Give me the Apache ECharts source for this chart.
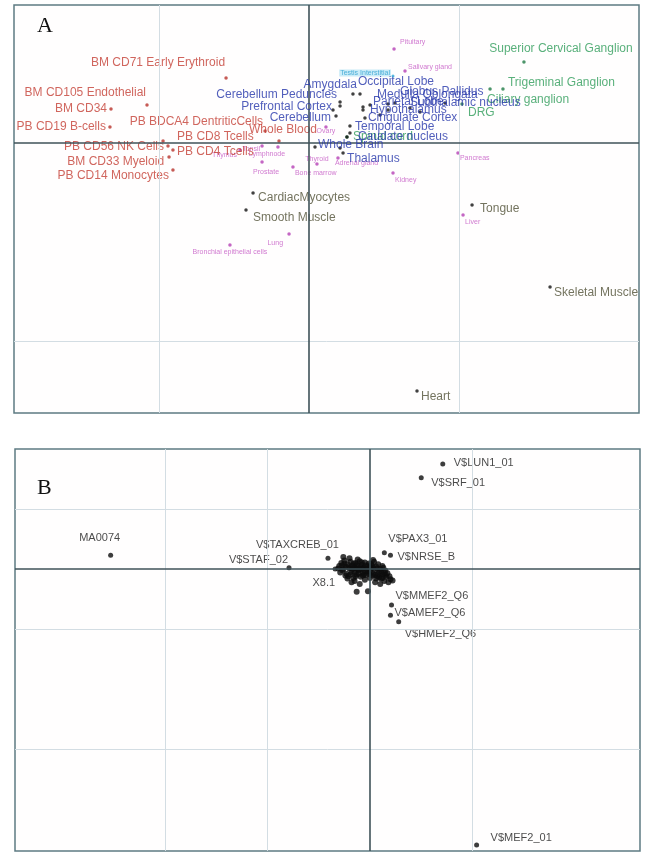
<!DOCTYPE html>
<html>
<head>
<meta charset="utf-8">
<script src="https://cdn.jsdelivr.net/npm/echarts@6/dist/echarts.min.js"></script>
<style>
  html, body { margin: 0; padding: 0; background: #ffffff; }
  #chart { width: 646px; height: 852px; }
</style>
</head>
<body>
<div id="chart"></div>
<script>
// ---------- Panel A: tissue coordinates ----------
const immuneNames = ['BM CD71 Early Erythroid', 'BM CD105 Endothelial', 'BM CD34', 'PB CD19 B-cells',
  'PB BDCA4 DentriticCells', 'PB CD8 Tcells', 'PB CD56 NK Cells', 'PB CD4 Tcells',
  'BM CD33 Myeloid', 'PB CD14 Monocytes', 'Whole Blood'];
const immuneX = [-0.553, -1.08, -1.32, -1.327, -0.293, -0.973, -0.94, -0.907, -0.933, -0.907, -0.20];
const immuneY = [0.328, 0.192, 0.172, 0.081, 0.061, 0.010, -0.015, -0.035, -0.071, -0.136, 0.010];

const brainNames = ['Amygdala', 'Occipital Lobe', 'Cerebellum Peduncles', 'Prefrontal Cortex', 'Cerebellum',
  'Medulla Oblongata', 'Parietal Lobe', 'Globus Pallidus', 'Subthalamic nucleus', 'Hypothalamus',
  'Cingulate Cortex', 'Temporal Lobe', 'Caudate nucleus', 'Whole Brain', 'Thalamus'];
const brainX = [0.293, 0.34, 0.207, 0.16, 0.18, 0.407, 0.36, 0.527, 0.573, 0.36, 0.373, 0.273, 0.273, 0.04, 0.227];
const brainY = [0.247, 0.247, 0.207, 0.167, 0.136, 0.192, 0.182, 0.197, 0.202, 0.167, 0.126, 0.086, 0.051, -0.02, -0.051];

// unlabelled neural samples inside the dense cluster
const brainExtraX = [0.207, 0.527, 0.253, 0.207, 0.473, 0.673, 0.907, 0.74];
const brainExtraY = [0.187, 0.167, 0.03, -0.025, 0.141, 0.177, 0.202, 0.157];

const gangliaNames = ['Superior Cervical Ganglion', 'Trigeminal Ganglion', 'Ciliary ganglion', 'DRG', 'Spinal cord'];
const gangliaX = [1.433, 1.293, 1.207, 1.02, 0.253];
const gangliaY = [0.409, 0.273, 0.273, 0.197, 0.03];

const organNames = ['Pituitary', 'Salivary gland', 'Pancreas', 'Kidney', 'Liver', 'Lung',
  'Bronchial epithelial cells', 'Thyroid', 'Adrenal gland', 'Bone marrow', 'Prostate',
  'Lymphnode', 'Tonsil', 'Thymus', 'Ovary'];
const organX = [0.567, 0.64, 0.993, 0.56, 1.027, -0.133, -0.527, 0.053, 0.193, -0.107, -0.313, -0.207, -0.313, -0.46, 0.113];
const organY = [0.475, 0.364, -0.051, -0.152, -0.364, -0.46, -0.515, -0.106, -0.076, -0.121, -0.096, -0.02, -0.015, -0.035, 0.081];

const testisNames = ['Testis Interstitial'];
const testisX = [0.56];
const testisY = [0.338];

const muscleNames = ['CardiacMyocytes', 'Smooth Muscle', 'Tongue', 'Skeletal Muscle', 'Heart'];
const muscleX = [-0.373, -0.42, 1.087, 1.607, 0.72];
const muscleY = [-0.253, -0.338, -0.313, -0.727, -1.253];

// reference lines of panel A
const gridAX = [-1, 1];
const gridAY = [-1];

// ---------- Panel B: motif coordinates ----------
const motifNames = ['V$LUN1_01', 'V$SRF_01', 'MA0074', 'V$TAXCREB_01', 'V$STAF_02', 'X8.1',
  'V$PAX3_01', 'V$NRSE_B', 'V$MMEF2_Q6', 'V$AMEF2_Q6', 'V$HMEF2_Q6', 'V$MEF2_01'];
const motifX = [0.71, 0.50, -2.53, -0.41, -0.79, -0.34, 0.14, 0.20, 0.21, 0.20, 0.28, 1.04];
const motifY = [1.75, 1.52, 0.23, 0.18, 0.02, 0.00, 0.27, 0.23, -0.60, -0.77, -0.88, -4.60];

// the unlabelled bulk of motifs near the origin
const bulkX = [-0.30, -0.28, -0.27, -0.25, -0.24, -0.23, -0.22, -0.21, -0.20, -0.19, -0.18, -0.17, -0.16, -0.15,
  -0.14, -0.13, -0.12, -0.11, -0.10, -0.09, -0.08, -0.07, -0.06, -0.05, -0.04, -0.03, -0.02, -0.01, 0.00, 0.01,
  0.02, 0.03, 0.04, 0.05, 0.06, 0.07, 0.08, 0.09, 0.10, 0.11, 0.12, 0.13, 0.14, 0.15, 0.16, 0.18, 0.20, -0.26,
  -0.20, -0.12, -0.05, -0.15, -0.10, -0.18, -0.02, 0.05, -0.08, -0.06, 0.00, -0.13, 0.03, -0.22, -0.13, 0.10,
  -0.29, -0.26, -0.24, -0.21, -0.19, -0.17, -0.15, -0.13, -0.11, -0.09, -0.07, -0.05, -0.03, -0.01, 0.01, 0.03,
  0.05, 0.07, 0.09, 0.11, 0.13, 0.15, 0.17, 0.19, -0.25, -0.16, -0.08, 0.02, 0.08, -0.18, -0.04, 0.12,
  -0.27, -0.11, 0.06, 0.22, -0.31, -0.14, 0.00, 0.14];
const bulkY = [0.05, 0.10, -0.02, 0.14, 0.04, -0.08, 0.08, -0.12, 0.01, 0.12, -0.05, 0.06, -0.15, 0.02,
  0.10, -0.09, 0.05, -0.02, 0.13, -0.13, 0.07, -0.06, 0.02, 0.11, -0.10, 0.04, -0.04, 0.09, -0.15, 0.01,
  0.06, -0.08, 0.12, -0.02, 0.04, -0.12, 0.08, -0.05, 0.00, -0.16, 0.05, -0.09, -0.20, -0.03, -0.13, -0.22, -0.17, 0.20,
  0.18, 0.16, -0.18, -0.20, -0.25, -0.22, -0.37, -0.22, 0.00, -0.09, 0.03, 0.00, 0.15, -0.16, -0.38, -0.25,
  -0.06, 0.00, -0.11, 0.03, -0.09, 0.00, -0.05, 0.07, -0.08, 0.03, -0.11, -0.03, 0.00, -0.08, 0.08, 0.02,
  -0.10, 0.01, -0.14, -0.06, 0.02, -0.10, -0.07, -0.12, 0.09, 0.09, 0.11, -0.11, -0.09, 0.04, 0.06, -0.15,
  0.06, 0.00, -0.16, -0.19, 0.01, -0.12, -0.05, -0.06];

const gridBX = [-2, -1, 1];
const gridBY = [1, -1, -3];

// ---------- label placement: [text align, dx, dy] relative to the point ----------
const place = {
  'BM CD71 Early Erythroid': ['right', -1, -15],
  'BM CD105 Endothelial': ['right', -1, -12],
  'BM CD34': ['right', -4, 0],
  'PB CD19 B-cells': ['right', -4, 0],
  'PB BDCA4 DentriticCells': ['right', -2, -9],
  'PB CD8 Tcells': ['left', 14, -4],
  'PB CD56 NK Cells': ['right', -4, 1],
  'PB CD4 Tcells': ['left', 4, 2],
  'BM CD33 Myeloid': ['right', -5, 5],
  'PB CD14 Monocytes': ['right', -4, 6],
  'Whole Blood': ['center', 4, -11],
  'Amygdala': ['right', 4, -9],
  'Occipital Lobe': ['left', -2, -12],
  'Cerebellum Peduncles': ['right', -3, -7],
  'Prefrontal Cortex': ['right', -1, -3],
  'Cerebellum': ['right', -5, 2],
  'Medulla Oblongata': ['left', 7, -10],
  'Parietal Lobe': ['left', 10, -5],
  'Globus Pallidus': ['left', 12, -12],
  'Subthalamic nucleus': ['left', 15, 0],
  'Hypothalamus': ['left', 7, 0],
  'Cingulate Cortex': ['left', 3, 0],
  'Temporal Lobe': ['left', 5, 1],
  'Caudate nucleus': ['left', 8, 4],
  'Whole Brain': ['left', 3, -2],
  'Thalamus': ['left', 4, 6],
  'Superior Cervical Ganglion': ['center', 37, -13],
  'Trigeminal Ganglion': ['left', 5, -6],
  'Ciliary ganglion': ['left', -3, 11],
  'DRG': ['left', 6, 9],
  'Spinal cord': ['left', 6, 0],
  'Pituitary': ['left', 6, -7],
  'Salivary gland': ['left', 3, -4],
  'Pancreas': ['left', 2, 5],
  'Kidney': ['left', 2, 7],
  'Liver': ['left', 2, 7],
  'Lung': ['right', -6, 9],
  'Bronchial epithelial cells': ['center', 0, 7],
  'Thyroid': ['center', 0, -5],
  'Adrenal gland': ['left', -3, 5],
  'Bone marrow': ['left', 2, 6],
  'Prostate': ['center', 4, 10],
  'Lymphnode': ['center', -11, 7],
  'Tonsil': ['right', -2, 3],
  'Thymus': ['right', -3, 5],
  'Ovary': ['center', 0, 4],
  'Testis Interstitial': ['right', -2, -3],
  'CardiacMyocytes': ['left', 5, 5],
  'Smooth Muscle': ['left', 7, 8],
  'Tongue': ['left', 8, 4],
  'Skeletal Muscle': ['left', 4, 6],
  'Heart': ['left', 4, 6],
  'V$LUN1_01': ['left', 11, -1],
  'V$SRF_01': ['left', 10, 5],
  'MA0074': ['center', -11, -17],
  'V$TAXCREB_01': ['right', 11, -13],
  'V$STAF_02': ['right', -1, -8],
  'X8.1': ['right', 0, 14],
  'V$PAX3_01': ['left', 4, -14],
  'V$NRSE_B': ['left', 7, 2],
  'V$MMEF2_Q6': ['left', 4, -9],
  'V$AMEF2_Q6': ['left', 4, -2],
  'V$HMEF2_Q6': ['left', 6, 12],
  'V$MEF2_01': ['left', 14, -7]
};

const FONT = '"Liberation Sans", Arial, Helvetica, sans-serif';

function labelled(names, xs, ys, textColor, fontSize, extraLabel) {
  return names.map((n, i) => {
    const p = place[n] || ['left', 4, 0];
    return {
      name: n,
      value: [xs[i], ys[i]],
      label: Object.assign({
        show: true,
        position: 'inside',
        align: p[0],
        verticalAlign: 'middle',
        offset: [p[1], p[2]],
        formatter: n,
        color: textColor,
        fontSize: fontSize,
        fontFamily: FONT
      }, extraLabel || {})
    };
  });
}

function plain(xs, ys) {
  return xs.map((x, i) => [x, ys[i]]);
}

function refLines(xi, yi, xs, ys) {
  const light = { color: '#d3dde3', width: 1, type: 'solid' };
  const dark = { color: '#3f5258', width: 1.6, type: 'solid' };
  const data = [];
  xs.forEach(v => data.push({ xAxis: v, lineStyle: light }));
  ys.forEach(v => data.push({ yAxis: v, lineStyle: light }));
  data.push({ xAxis: 0, lineStyle: dark });
  data.push({ yAxis: 0, lineStyle: dark });
  return {
    type: 'scatter', xAxisIndex: xi, yAxisIndex: yi, data: [], silent: true, z: 1,
    markLine: { silent: true, symbol: 'none', label: { show: false }, animation: false, data: data }
  };
}

const axisOff = { show: true, axisLine: { show: false }, axisTick: { show: false },
  axisLabel: { show: false }, splitLine: { show: false } };

const chart = echarts.init(document.getElementById('chart'), null, { renderer: 'canvas' });

chart.setOption({
  backgroundColor: '#ffffff',
  animation: false,
  grid: [
    { left: 14, top: 5, width: 625, height: 408, show: true, borderColor: '#5d7b82', borderWidth: 1.5, backgroundColor: '#fffefe' },
    { left: 15, top: 449, width: 625, height: 402, show: true, borderColor: '#5d7b82', borderWidth: 1.5, backgroundColor: '#fffefe' }
  ],
  xAxis: [
    Object.assign({ type: 'value', gridIndex: 0, min: -1.9667, max: 2.2 }, axisOff),
    Object.assign({ type: 'value', gridIndex: 1, min: -3.463, max: 2.634 }, axisOff)
  ],
  yAxis: [
    Object.assign({ type: 'value', gridIndex: 0, min: -1.3636, max: 0.697 }, axisOff),
    Object.assign({ type: 'value', gridIndex: 1, min: -4.7, max: 2.0 }, axisOff)
  ],
  graphic: [
    { type: 'text', left: 37, top: 15, style: { text: 'A', font: '22px "Liberation Serif", "Times New Roman", serif', fill: '#111' } },
    { type: 'text', left: 37, top: 477, style: { text: 'B', font: '22px "Liberation Serif", "Times New Roman", serif', fill: '#111' } }
  ],
  series: [
    refLines(0, 0, gridAX, gridAY),
    refLines(1, 1, gridBX, gridBY),
    {
      name: 'organs', type: 'scatter', xAxisIndex: 0, yAxisIndex: 0, z: 2,
      symbolSize: 3.5, itemStyle: { color: '#b540b5' },
      data: labelled(organNames, organX, organY, '#c458c4', 7)
    },
    {
      name: 'testis', type: 'scatter', xAxisIndex: 0, yAxisIndex: 0, z: 2,
      symbolSize: 3, itemStyle: { color: '#2aa8d8' },
      data: labelled(testisNames, testisX, testisY, '#2a9fd0', 7, { backgroundColor: 'rgba(160,222,242,0.7)', padding: [0, 1] })
    },
    {
      name: 'immune', type: 'scatter', xAxisIndex: 0, yAxisIndex: 0, z: 3,
      symbolSize: 3.5, itemStyle: { color: '#b8322a' },
      data: labelled(immuneNames, immuneX, immuneY, '#c43e34', 12)
    },
    {
      name: 'muscle', type: 'scatter', xAxisIndex: 0, yAxisIndex: 0, z: 3,
      symbolSize: 3.5, itemStyle: { color: '#111' },
      data: labelled(muscleNames, muscleX, muscleY, '#505036', 12)
    },
    {
      name: 'ganglia', type: 'scatter', xAxisIndex: 0, yAxisIndex: 0, z: 4,
      symbolSize: 3.5, itemStyle: { color: '#1f7a45' },
      data: labelled(gangliaNames, gangliaX, gangliaY, '#2f9c5a', 12)
    },
    {
      name: 'brain', type: 'scatter', xAxisIndex: 0, yAxisIndex: 0, z: 5,
      symbolSize: 3.5, itemStyle: { color: '#111' },
      data: labelled(brainNames, brainX, brainY, '#2536aa', 12)
    },
    {
      name: 'brain-extra', type: 'scatter', xAxisIndex: 0, yAxisIndex: 0, z: 5,
      symbolSize: 3.5, itemStyle: { color: '#111' },
      data: plain(brainExtraX, brainExtraY)
    },
    {
      name: 'motif-bulk', type: 'scatter', xAxisIndex: 1, yAxisIndex: 1, z: 3,
      symbolSize: 6, itemStyle: { color: '#0c0c0c' },
      data: plain(bulkX, bulkY)
    },
    {
      name: 'motifs', type: 'scatter', xAxisIndex: 1, yAxisIndex: 1, z: 4,
      symbolSize: 5, itemStyle: { color: '#0c0c0c' },
      data: labelled(motifNames, motifX, motifY, '#1a1a1a', 11)
    }
  ]
});
</script>
</body>
</html>
